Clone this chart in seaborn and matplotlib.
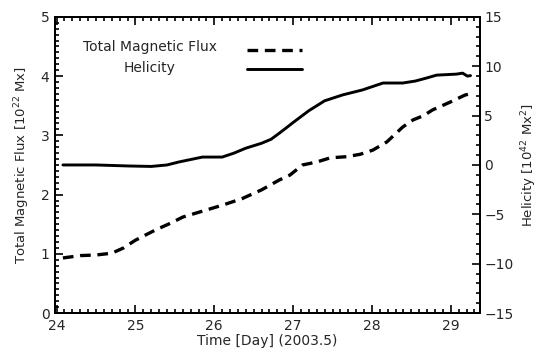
"""Total magnetic flux and helicity vs time (AR 2003.5)."""
import pandas as pd
import matplotlib.pyplot as plt
import seaborn as sns
from matplotlib.ticker import MultipleLocator

# values
flux_day = [24.08, 24.3, 24.5, 24.7, 24.85, 25.0, 25.25, 25.45, 25.6, 25.85, 26.1,
            26.35, 26.6, 26.83, 26.96, 27.12, 27.3, 27.47, 27.68, 27.85, 28.01,
            28.19, 28.39, 28.52, 28.65, 28.77, 28.99, 29.18, 29.24]
flux_val = [0.93, 0.97, 0.98, 1.01, 1.1, 1.23, 1.4, 1.52, 1.62, 1.72, 1.82,
            1.93, 2.08, 2.25, 2.33, 2.5, 2.55, 2.62, 2.64, 2.68, 2.75,
            2.89, 3.14, 3.26, 3.33, 3.43, 3.56, 3.68, 3.7]

hel_day = [24.08, 24.5, 24.9, 25.2, 25.4, 25.55, 25.7, 25.85, 26.1, 26.25, 26.4,
           26.6, 26.72, 26.83, 26.92, 27.0, 27.2, 27.4, 27.63, 27.88, 28.14, 28.39,
           28.55, 28.69, 28.82, 29.07, 29.15, 29.21, 29.25]
hel_val = [0.0, 0.0, -0.1, -0.15, 0.0, 0.3, 0.55, 0.8, 0.8, 1.2, 1.7,
           2.2, 2.6, 3.25, 3.8, 4.3, 5.5, 6.5, 7.1, 7.6, 8.3, 8.3,
           8.5, 8.8, 9.1, 9.2, 9.3, 9.0, 9.05]

flux = pd.DataFrame({"day": flux_day, "flux": flux_val})
hel = pd.DataFrame({"day": hel_day, "helicity": hel_val})

sns.set_theme(style="ticks")
plt.rcParams["font.family"] = ["DejaVu Sans"]

fig = plt.figure(figsize=(5.41, 3.59), dpi=100)
ax = fig.add_axes([0.1017, 0.128, 0.7855, 0.825])
ax2 = ax.twinx()

dash = (0, (3.2, 2.0))
sns.lineplot(data=flux, x="day", y="flux", ax=ax, color="black", lw=2.4,
             linestyle=dash, legend=False)
sns.lineplot(data=hel, x="day", y="helicity", ax=ax2, color="black", lw=2.1,
             legend=False)

ax.set_xlim(23.98, 29.37)
ax.set_ylim(0, 5)
ax2.set_ylim(-15, 15)

ax.xaxis.set_major_locator(MultipleLocator(1))
ax.xaxis.set_minor_locator(MultipleLocator(0.1))
ax.yaxis.set_major_locator(MultipleLocator(1))
ax.yaxis.set_minor_locator(MultipleLocator(0.1))
ax2.yaxis.set_major_locator(MultipleLocator(5))
ax2.yaxis.set_minor_locator(MultipleLocator(1))

ax.tick_params(which="both", direction="in", top=True, right=False, color="black",
               labelsize=10, width=1.2, pad=4)
ax.tick_params(which="major", length=6)
ax.tick_params(which="minor", length=3)
ax2.tick_params(which="both", direction="in", color="black", labelsize=10,
                width=1.2, pad=3)
ax2.tick_params(which="major", length=6)
ax2.tick_params(which="minor", length=3)

for a in (ax, ax2):
    for s in a.spines.values():
        s.set_linewidth(1.4)
        s.set_color("black")

ax.set_xlabel("Time [Day] (2003.5)", fontsize=10, labelpad=1)
ax.set_ylabel("Total Magnetic Flux [10$^{22}$ Mx]", fontsize=9.5, labelpad=6)
ax2.set_ylabel("Helicity [10$^{42}$ Mx$^{2}$]", fontsize=9.5, labelpad=4)

# legend drawn like the original: labels centred, line samples to the right
ax.text(25.18, 4.49, "Total Magnetic Flux", ha="center", va="center", fontsize=10)
ax.text(25.18, 4.14, "Helicity", ha="center", va="center", fontsize=10)
ax.plot([26.42, 27.11], [4.44, 4.44], color="black", lw=2.4, linestyle=dash)
ax.plot([26.42, 27.11], [4.12, 4.12], color="black", lw=2.1)

fig.savefig("out.png", dpi=100)
